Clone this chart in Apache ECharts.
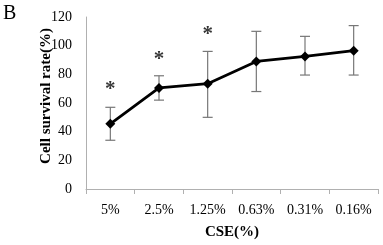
<!DOCTYPE html>
<html>
<head>
<meta charset="utf-8">
<script src="https://cdn.jsdelivr.net/npm/echarts@6/dist/echarts.min.js"></script>
<style>
html,body{margin:0;padding:0;background:#fff;}
#main{width:383px;height:245px;}
</style>
</head>
<body>
<div id="main"></div>
<script>
// 数据
var categories = ['5%', '2.5%', '1.25%', '0.63%', '0.31%', '0.16%'];
var survival = [45.5, 70.5, 73.5, 89, 92.5, 96.5];
var errUpper = [57, 79, 96, 110, 106.5, 114];
var errLower = [34, 62, 50, 68, 79.5, 79.5];
var starY = [73, 94, 111, null, null, null];
var yTicks = [0, 20, 40, 60, 80, 100, 120];

var serif = '"Liberation Serif", "DejaVu Serif", serif';
var myChart = echarts.init(document.getElementById('main'));

var errData = categories.map(function (c, i) {
    return [i, errLower[i], errUpper[i]];
});
var starData = [];
for (var i = 0; i < categories.length; i++) {
    if (starY[i] != null) starData.push([i, starY[i]]);
}

var option = {
    animation: false,
    graphic: [{
        type: 'text', left: 3, top: 4,
        style: {text: 'B', font: '20px ' + serif, fill: '#000'}
    }, {
        // 纵轴标题，原图略偏上
        type: 'text', x: 46, y: 96, rotation: Math.PI / 2,
        style: {
            text: 'Cell survival rate(%)', font: 'bold 15px ' + serif, fill: '#000',
            align: 'center', verticalAlign: 'middle'
        }
    }],
    grid: {left: 86, right: 5, top: 17, bottom: 53},
    xAxis: {
        type: 'category',
        data: categories,
        boundaryGap: true,
        name: 'CSE(%)',
        nameLocation: 'middle',
        nameGap: 36,
        nameTextStyle: {fontFamily: serif, fontWeight: 'bold', fontSize: 15, color: '#000'},
        axisLine: {lineStyle: {color: '#b0b0b0', width: 1}},
        axisTick: {show: true, length: 5, inside: false, lineStyle: {color: '#b0b0b0'}},
        axisLabel: {fontFamily: serif, fontSize: 14, color: '#000', margin: 14}
    },
    yAxis: {
        type: 'value',
        min: yTicks[0],
        max: yTicks[yTicks.length - 1],
        interval: 20,
        axisLine: {show: true, lineStyle: {color: '#b0b0b0', width: 1}},
        axisTick: {show: false},
        splitLine: {show: false},
        axisLabel: {fontFamily: serif, fontSize: 14, color: '#000', margin: 14}
    },
    series: [{
        type: 'custom',
        data: errData,
        z: 1,
        renderItem: function (params, api) {
            var x = api.value(0);
            var lo = api.coord([x, api.value(1)]);
            var hi = api.coord([x, api.value(2)]);
            var w = 5;
            var st = {stroke: '#777', lineWidth: 1.2};
            return {
                type: 'group',
                children: [
                    {type: 'line', shape: {x1: lo[0], y1: lo[1], x2: hi[0], y2: hi[1]}, style: st},
                    {type: 'line', shape: {x1: lo[0] - w, y1: lo[1], x2: lo[0] + w, y2: lo[1]}, style: st},
                    {type: 'line', shape: {x1: hi[0] - w, y1: hi[1], x2: hi[0] + w, y2: hi[1]}, style: st}
                ]
            };
        }
    }, {
        type: 'line',
        data: survival,
        z: 3,
        symbol: 'diamond',
        symbolSize: 10,
        lineStyle: {color: '#000', width: 2.8},
        itemStyle: {color: '#000'}
    }, {
        type: 'scatter',
        data: starData,
        symbolSize: 0,
        z: 4,
        label: {
            show: true, position: 'inside', formatter: '*',
            fontFamily: serif, fontWeight: 'bold', fontSize: 21, color: '#000', offset: [0, 5]
        }
    }]
};

myChart.setOption(option);
window.addEventListener('resize', function () {
    myChart.resize();
});
</script>
</body>
</html>
